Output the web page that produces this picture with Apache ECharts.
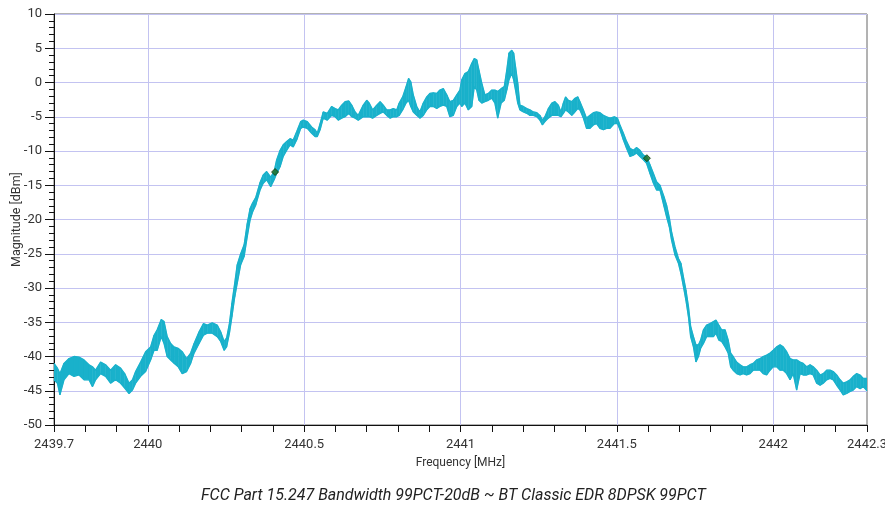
<!DOCTYPE html>
<html>
<head>
<meta charset="utf-8">
<script src="https://cdn.jsdelivr.net/npm/echarts@6/dist/echarts.min.js"></script>
<style>
  html, body { margin: 0; padding: 0; background: #fff; }
  #chart { width: 885px; height: 505px; }
</style>
</head>
<body>
<div id="chart"></div>
<script>
// Spectrum trace: frequency (MHz) with upper / lower envelope of the sweep (dBm)
const freq = [
  2439.700, 2439.711, 2439.719, 2439.732, 2439.748, 2439.764, 2439.780, 2439.796, 2439.812, 2439.823,
  2439.833, 2439.849, 2439.865, 2439.881, 2439.897, 2439.913, 2439.926, 2439.940, 2439.951, 2439.961,
  2439.977, 2439.993, 2440.009, 2440.020, 2440.030, 2440.043, 2440.052, 2440.062, 2440.073, 2440.084,
  2440.097, 2440.110, 2440.124, 2440.137, 2440.148, 2440.164, 2440.178, 2440.190, 2440.206, 2440.222,
  2440.233, 2440.244, 2440.252, 2440.261, 2440.269, 2440.278, 2440.286, 2440.297, 2440.308, 2440.318,
  2440.327, 2440.335, 2440.345, 2440.359, 2440.369, 2440.380, 2440.393, 2440.404, 2440.412, 2440.423,
  2440.433, 2440.444, 2440.455, 2440.465, 2440.476, 2440.489, 2440.497, 2440.510, 2440.524, 2440.535,
  2440.542, 2440.551, 2440.561, 2440.574, 2440.588, 2440.599, 2440.609, 2440.620, 2440.631, 2440.643,
  2440.652, 2440.663, 2440.673, 2440.689, 2440.700, 2440.708, 2440.719, 2440.732, 2440.743, 2440.753,
  2440.764, 2440.775, 2440.785, 2440.796, 2440.804, 2440.815, 2440.826, 2440.834, 2440.841, 2440.849,
  2440.860, 2440.870, 2440.881, 2440.892, 2440.902, 2440.913, 2440.924, 2440.934, 2440.945, 2440.956,
  2440.966, 2440.977, 2440.988, 2440.998, 2441.004, 2441.014, 2441.025, 2441.036, 2441.044, 2441.052,
  2441.059, 2441.068, 2441.078, 2441.089, 2441.100, 2441.110, 2441.119, 2441.130, 2441.140, 2441.148,
  2441.155, 2441.164, 2441.170, 2441.176, 2441.183, 2441.190, 2441.201, 2441.212, 2441.222, 2441.233,
  2441.244, 2441.254, 2441.262, 2441.270, 2441.281, 2441.292, 2441.302, 2441.313, 2441.321, 2441.329,
  2441.336, 2441.345, 2441.356, 2441.366, 2441.375, 2441.382, 2441.393, 2441.403, 2441.414, 2441.425,
  2441.435, 2441.446, 2441.457, 2441.467, 2441.478, 2441.492, 2441.502, 2441.510, 2441.521, 2441.531,
  2441.542, 2441.553, 2441.563, 2441.574, 2441.585, 2441.595, 2441.606, 2441.617, 2441.627, 2441.638,
  2441.651, 2441.659, 2441.668, 2441.675, 2441.686, 2441.697, 2441.705, 2441.713, 2441.721, 2441.729,
  2441.736, 2441.745, 2441.753, 2441.761, 2441.768, 2441.777, 2441.787, 2441.798, 2441.809, 2441.817,
  2441.826, 2441.835, 2441.846, 2441.856, 2441.864, 2441.872, 2441.883, 2441.894, 2441.904, 2441.915,
  2441.926, 2441.936, 2441.947, 2441.958, 2441.968, 2441.979, 2441.990, 2442.000, 2442.011, 2442.022,
  2442.032, 2442.043, 2442.054, 2442.064, 2442.075, 2442.086, 2442.096, 2442.107, 2442.118, 2442.128,
  2442.139, 2442.150, 2442.160, 2442.171, 2442.182, 2442.192, 2442.203, 2442.214, 2442.224, 2442.235,
  2442.246, 2442.256, 2442.267, 2442.278, 2442.288, 2442.300
];
const upper = [
  -41.0, -41.7, -42.5, -41.0, -40.3, -40.0, -40.1, -40.5, -41.2, -41.5,
  -42.0, -40.8, -41.2, -42.0, -41.2, -41.7, -42.5, -43.9, -43.4, -42.2,
  -40.8, -39.3, -38.6, -36.9, -36.1, -34.6, -34.9, -37.1, -38.1, -38.6,
  -38.8, -39.3, -40.3, -39.5, -38.1, -36.4, -35.2, -35.4, -35.1, -35.4,
  -36.4, -37.8, -37.3, -35.2, -32.2, -29.3, -26.6, -25.0, -23.7, -20.6,
  -18.4, -17.6, -16.8, -14.6, -13.5, -13.0, -13.8, -13.0, -11.3, -9.9,
  -9.1, -8.6, -8.2, -8.4, -7.2, -5.7, -5.5, -5.7, -6.5, -6.9,
  -7.4, -6.0, -4.3, -4.5, -3.5, -3.8, -4.0, -3.3, -2.8, -2.7,
  -3.3, -4.3, -4.8, -3.3, -2.6, -3.0, -4.0, -3.3, -2.8, -3.3,
  -4.0, -4.0, -3.8, -4.0, -3.0, -2.1, -0.6, 0.6, 0.1, -1.8,
  -3.5, -4.3, -3.0, -2.1, -1.6, -1.5, -1.6, -1.1, -0.9, -1.8,
  -2.8, -2.6, -1.8, -1.1, 0.4, 1.3, 1.6, 2.8, 3.5, 3.3,
  1.8, -0.1, -1.8, -1.6, -1.1, -1.1, -1.3, -0.9, -0.6, 1.8,
  4.3, 4.7, 4.3, 2.3, -0.1, -3.3, -3.5, -3.8, -4.0, -4.3,
  -4.4, -4.8, -5.5, -5.0, -3.8, -3.0, -2.8, -3.3, -4.3, -3.0,
  -2.1, -2.6, -2.8, -2.3, -2.1, -2.8, -4.0, -5.2, -4.8, -4.4,
  -4.3, -4.4, -4.8, -5.0, -5.2, -5.0, -5.2, -6.2, -7.4, -8.6,
  -9.6, -9.9, -9.5, -9.9, -10.6, -10.8, -12.0, -13.3, -14.5, -15.0,
  -16.7, -17.9, -19.8, -21.8, -24.0, -25.7, -26.4, -28.4, -30.3, -32.7,
  -35.6, -37.1, -38.3, -38.3, -37.6, -36.1, -35.4, -35.2, -34.9, -34.7,
  -35.4, -36.1, -36.1, -37.6, -39.5, -40.0, -40.8, -41.2, -41.5, -41.5,
  -41.2, -41.0, -40.5, -40.3, -40.0, -39.8, -39.5, -39.1, -38.6, -38.3,
  -38.6, -39.3, -40.3, -40.5, -40.5, -40.8, -41.0, -41.5, -41.2, -41.5,
  -42.0, -42.7, -42.5, -42.0, -42.0, -42.2, -42.7, -43.4, -43.9, -43.7,
  -43.4, -42.9, -42.5, -42.7, -43.2, -43.2
];
const lower = [
  -43.4, -43.9, -45.6, -43.4, -42.5, -42.9, -42.7, -43.4, -43.4, -44.4,
  -43.4, -42.5, -42.9, -43.9, -43.4, -43.9, -44.6, -45.4, -44.9, -43.9,
  -42.9, -42.2, -40.5, -39.1, -39.1, -37.1, -38.1, -40.0, -40.5, -41.0,
  -41.5, -42.5, -42.2, -41.0, -39.5, -38.1, -36.9, -36.6, -36.6, -37.1,
  -37.8, -39.1, -38.6, -36.6, -34.2, -31.3, -29.3, -26.6, -25.4, -22.5,
  -20.1, -18.9, -17.9, -15.7, -14.7, -14.2, -15.2, -14.2, -13.3, -12.3,
  -10.8, -9.9, -9.1, -9.4, -8.4, -6.7, -6.5, -6.7, -7.4, -7.9,
  -7.9, -6.9, -5.2, -5.5, -4.8, -5.0, -5.5, -5.2, -5.0, -4.5,
  -5.0, -5.2, -5.5, -5.0, -5.0, -5.0, -5.2, -4.8, -4.5, -4.3,
  -4.8, -5.2, -5.0, -5.0, -4.8, -4.0, -3.0, -2.6, -3.5, -4.3,
  -4.8, -5.2, -4.8, -4.0, -3.5, -3.5, -3.8, -3.5, -3.3, -3.5,
  -5.0, -4.8, -3.5, -3.0, -3.5, -3.0, -4.0, -3.5, -0.6, -1.1,
  -2.6, -3.0, -2.8, -2.6, -2.3, -3.0, -5.2, -3.0, -2.6, -1.1,
  0.4, 1.3, 0.4, -1.1, -3.0, -4.0, -4.3, -4.5, -4.8, -4.8,
  -5.0, -5.5, -6.2, -5.7, -5.2, -4.8, -4.8, -4.8, -5.0, -4.5,
  -4.0, -4.3, -4.8, -4.3, -3.8, -4.0, -5.2, -6.7, -6.7, -6.2,
  -6.0, -6.7, -6.9, -6.7, -6.7, -6.0, -6.0, -6.9, -8.4, -9.6,
  -10.8, -10.6, -10.3, -10.8, -11.3, -11.8, -13.3, -14.7, -15.7, -15.7,
  -18.1, -19.6, -21.1, -23.0, -25.2, -26.4, -27.9, -29.8, -31.8, -34.2,
  -37.1, -38.6, -40.8, -40.0, -38.8, -38.1, -37.1, -37.1, -37.1, -36.6,
  -37.6, -37.8, -38.6, -39.5, -41.5, -42.0, -42.5, -42.7, -42.5, -42.7,
  -42.5, -42.0, -42.0, -42.0, -42.5, -42.7, -42.0, -41.5, -41.5, -42.0,
  -42.0, -42.5, -43.4, -42.5, -44.9, -42.5, -42.7, -42.7, -42.5, -42.7,
  -43.9, -44.2, -43.9, -43.4, -43.2, -43.4, -44.2, -44.9, -45.6, -45.4,
  -45.1, -44.9, -44.4, -44.7, -44.4, -45.0
];

// -20 dB / 99 % bandwidth markers
const markerFreq = [2440.407, 2441.596];
const markerLevel = [-13.07, -11.05];

// Axis ticks and labels
const xTickValues = [
  2439.7, 2439.8, 2439.9, 2440.0, 2440.1, 2440.2, 2440.3, 2440.4, 2440.5,
  2440.6, 2440.7, 2440.8, 2440.9, 2441.0, 2441.1, 2441.2, 2441.3, 2441.4,
  2441.5, 2441.6, 2441.7, 2441.8, 2441.9, 2442.0, 2442.1, 2442.2, 2442.3
];
const xLabelValues = [2439.7, 2440, 2440.5, 2441, 2441.5, 2442, 2442.3];
const xGridValues = [2440, 2440.5, 2441, 2441.5, 2442];

const TRACE = '#19b1cb';
const GRID = '#c3c3f1';
const FONT = 'Roboto';

const bandData = freq.map((f, i) => [f, upper[i], lower[i]]);

// filled strip between the two envelopes, one quad per sample interval
function renderBand(params, api) {
  const i = params.dataIndex;
  if (i >= freq.length - 1) return null;
  const pts = [
    api.coord([freq[i], upper[i]]),
    api.coord([freq[i + 1], upper[i + 1]]),
    api.coord([freq[i + 1], lower[i + 1]]),
    api.coord([freq[i], lower[i]])
  ];
  return {
    type: 'polygon',
    shape: { points: pts },
    style: { fill: TRACE, stroke: TRACE, lineWidth: 0.5 }
  };
}

const chart = echarts.init(document.getElementById('chart'), null, { renderer: 'canvas' });
chart.setOption({
  animation: false,
  backgroundColor: '#ffffff',
  title: {
    text: 'FCC Part 15.247 Bandwidth 99PCT-20dB ~ BT Classic EDR 8DPSK 99PCT',
    left: 196,
    top: 483,
    textStyle: { fontFamily: FONT, fontStyle: 'italic', fontWeight: 'normal', fontSize: 16, color: '#222' }
  },
  grid: {
    left: 54, right: 18, top: 14, bottom: 80,
    outerBoundsMode: 'none',
    containLabel: false,
    show: true, borderColor: '#666', borderWidth: 1, backgroundColor: 'transparent'
  },
  xAxis: {
    type: 'value',
    min: 2439.7,
    max: 2442.3,
    name: 'Frequency [MHz]',
    nameLocation: 'middle',
    nameGap: 32,
    nameMoveOverlap: false,
    nameTextStyle: { fontFamily: FONT, fontSize: 12, color: '#333' },
    axisLine: { show: true, onZero: false, lineStyle: { color: '#111', width: 1 } },
    axisTick: { show: true, length: 7, customValues: xTickValues, lineStyle: { color: '#111' } },
    axisLabel: {
      customValues: xLabelValues,
      fontFamily: FONT, fontSize: 13, color: '#333', margin: 13,
      formatter: v => String(+(+v).toFixed(1))
    },
    splitLine: { show: false }
  },
  yAxis: {
    type: 'value',
    min: -50,
    max: 10,
    interval: 5,
    name: 'Magnitude [dBm]',
    nameLocation: 'middle',
    nameGap: 31,
    nameMoveOverlap: false,
    nameTextStyle: { fontFamily: FONT, fontSize: 12.5, color: '#333' },
    axisLine: { show: true, lineStyle: { color: '#111', width: 1 } },
    axisTick: { show: true, length: 9, lineStyle: { color: '#111' } },
    minorTick: { show: true, splitNumber: 5, length: 5, lineStyle: { color: '#111' } },
    axisLabel: { fontFamily: FONT, fontSize: 13, color: '#333', margin: 12 },
    splitLine: { show: true, lineStyle: { color: GRID, width: 1 } }
  },
  series: [
    {
      // vertical grid lines, kept beneath the trace
      type: 'line',
      data: [],
      z: 1,
      markLine: {
        silent: true,
        z: 1,
        symbol: 'none',
        label: { show: false },
        lineStyle: { color: GRID, width: 1, type: 'solid' },
        data: xGridValues.map(v => ({ xAxis: v }))
      }
    },
    {
      name: 'band',
      type: 'custom',
      data: bandData,
      encode: { x: 0, y: [1, 2] },
      renderItem: renderBand,
      clip: true,
      z: 3,
      silent: true
    },
    {
      name: 'upper',
      type: 'line',
      data: freq.map((f, i) => [f, upper[i]]),
      symbol: 'none',
      z: 4,
      lineStyle: { color: TRACE, width: 1.3 }
    },
    {
      name: 'lower',
      type: 'line',
      data: freq.map((f, i) => [f, lower[i]]),
      symbol: 'none',
      z: 4,
      lineStyle: { color: TRACE, width: 1.3 }
    },
    {
      name: 'markers',
      type: 'scatter',
      data: markerFreq.map((f, i) => [f, markerLevel[i]]),
      symbol: 'diamond',
      symbolSize: 7,
      z: 6,
      itemStyle: { color: '#1f6e1f', borderColor: '#0c3a0c', borderWidth: 1 }
    }
  ]
});
</script>
</body>
</html>
